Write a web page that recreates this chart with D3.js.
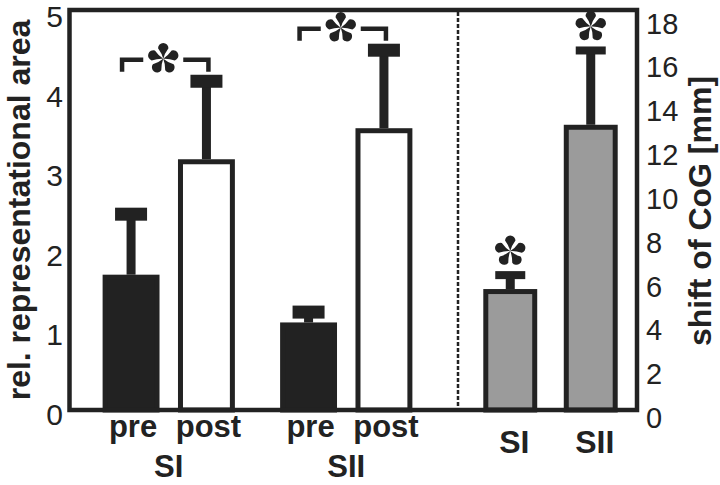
<!DOCTYPE html>
<html>
<head>
<meta charset="utf-8">
<script src="https://cdn.jsdelivr.net/npm/d3@7"></script>
<style>
  body { margin: 0; background: #fff; }
  svg { display: block; font-family: "Liberation Sans", Arial, sans-serif; }
  .tick-label { fill: #222; }
  .label { fill: #222; font-weight: bold; }
</style>
</head>
<body>
<svg width="720" height="485"></svg>
<script>
  // left panel: relative representational area, pre vs post
  const groups = ['SI', 'SII'];
  const phases = ['pre', 'post'];
  const areaPre = [1.70, 1.10];
  const areaPreErr = [2.46, 1.23];
  const areaPost = [3.15, 3.54];
  const areaPostErr = [4.13, 4.52];

  // right panel: shift of CoG in mm
  const shiftMean = [5.47, 12.9];
  const shiftErr = [6.1, 16.26];

  const leftTicks = [0, 1, 2, 3, 4, 5];
  const rightTicks = [0, 2, 4, 6, 8, 10, 12, 14, 16, 18];

  const ink = '#222';
  const svg = d3.select('svg');

  const yLeft = d3.scaleLinear().domain([0, 5]).range([410, 12]);
  const yRight = d3.scaleLinear().domain([0, 18]).range([410, 12]);

  const xGroup = d3.scaleBand().domain(groups).range([80, 435]);
  const xPhase = d3.scaleBand().domain(phases)
    .range([0, xGroup.bandwidth()])
    .paddingInner(0.245).paddingOuter(0.3);
  const xShift = d3.scaleBand().domain(groups)
    .range([461, 640])
    .paddingInner(0.33).paddingOuter(0.277);

  const leftRows = [];
  groups.forEach((g, i) => {
    leftRows.push({ group: g, phase: 'pre', value: areaPre[i], err: areaPreErr[i] });
    leftRows.push({ group: g, phase: 'post', value: areaPost[i], err: areaPostErr[i] });
  });
  const rightRows = groups.map((g, i) => ({ group: g, value: shiftMean[i], err: shiftErr[i] }));

  // five teardrop petals
  const r = 5.2, len = 10.5;
  const petal = `M0,0Q${-r * 0.25},${-len * 0.5} ${-r},${-len}` +
    `A${r},${r} 0 1 1 ${r},${-len}Q${r * 0.25},${-len * 0.5} 0,0Z`;
  const asterisk = (sel, x, y) => {
    const a = sel.append('g').attr('transform', `translate(${x},${y})`);
    d3.range(5).forEach(k => {
      a.append('path').attr('d', petal)
        .attr('transform', `rotate(${k * 72})`)
        .attr('fill', ink);
    });
  };

  // bars with error bars
  const drawBar = (sel, cx, bw, yScale, d, fill, capH, capW) => {
    const sw = 5;
    const yTop = yScale(d.value);
    const yErr = yScale(d.err);
    sel.append('rect')
      .attr('x', cx - 4.5).attr('width', 9)
      .attr('y', yErr).attr('height', yTop - yErr);
    sel.append('rect')
      .attr('x', cx - capW / 2).attr('width', capW)
      .attr('y', yErr - capH / 2).attr('height', capH);
    sel.append('rect')
      .attr('x', cx - bw / 2 + sw / 2).attr('width', bw - sw)
      .attr('y', yTop + sw / 2).attr('height', yScale(0) - yTop - sw / 2)
      .attr('fill', fill)
      .attr('stroke', ink).attr('stroke-width', sw);
  };

  const bars = svg.append('g').attr('fill', ink);
  leftRows.forEach(d => {
    const cx = xGroup(d.group) + xPhase(d.phase) + xPhase.bandwidth() / 2;
    drawBar(bars, cx, xPhase.bandwidth(), yLeft, d, d.phase === 'pre' ? ink : '#fff', 13, 32);
  });
  rightRows.forEach(d => {
    const cx = xShift(d.group) + xShift.bandwidth() / 2;
    drawBar(bars, cx, xShift.bandwidth(), yRight, d, '#9b9b9b', 8, 30);
  });

  // significance brackets pre vs post
  groups.forEach((g, i) => {
    const x0 = xGroup(g) + xPhase('pre') + xPhase.bandwidth() / 2 - 9;
    const x1 = xGroup(g) + xPhase('post') + xPhase.bandwidth() / 2 + 2;
    const yEnd = yLeft(areaPostErr[i]) - 6.5 - 3;
    const yLine = yEnd - 12;
    const xm = (x0 + x1) / 2 - 2;
    const gap = 20;
    svg.append('path')
      .attr('d', `M${x0},${yEnd}V${yLine}H${xm - gap}M${xm + gap},${yLine}H${x1}V${yEnd}`)
      .attr('fill', 'none').attr('stroke', ink).attr('stroke-width', 4.5);
    asterisk(svg, xm, yLine - 1);
  });
  rightRows.forEach(d => {
    const cx = xShift(d.group) + xShift.bandwidth() / 2;
    asterisk(svg, cx, yRight(d.err) - 4 - 20);
  });

  // divider
  svg.append('line')
    .attr('x1', 458).attr('x2', 458).attr('y1', 12).attr('y2', 410)
    .attr('stroke', ink).attr('stroke-width', 2.5)
    .attr('stroke-dasharray', '4,2');

  // frame
  svg.append('rect')
    .attr('x', 69.5).attr('y', 10).attr('width', 567.5).attr('height', 400)
    .attr('fill', 'none').attr('stroke', ink).attr('stroke-width', 4.5);

  // tick labels
  svg.append('g').selectAll('text').data(leftTicks).join('text')
    .attr('class', 'tick-label')
    .attr('x', 63).attr('y', d => yLeft(d) + 15)
    .attr('text-anchor', 'end')
    .attr('font-size', 30)
    .text(d => d);
  svg.append('g').selectAll('text').data(rightTicks).join('text')
    .attr('class', 'tick-label')
    .attr('x', 646).attr('y', d => yRight(d) + 18 + d * 0.2)
    .attr('font-size', 29)
    .text(d => d);

  // axis titles
  svg.append('text').attr('class', 'label')
    .attr('transform', 'translate(30,210) rotate(-90)')
    .attr('text-anchor', 'middle').attr('font-size', 32)
    .text('rel. representational area');
  svg.append('text').attr('class', 'label')
    .attr('transform', 'translate(711,211) rotate(-90)')
    .attr('text-anchor', 'middle').attr('font-size', 32)
    .text('shift of CoG [mm]');

  // category labels
  leftRows.forEach(d => {
    svg.append('text').attr('class', 'label')
      .attr('x', xGroup(d.group) + xPhase(d.phase) + xPhase.bandwidth() / 2 + 2)
      .attr('y', 437).attr('text-anchor', 'middle').attr('font-size', 31)
      .text(d.phase);
  });
  groups.forEach(g => {
    svg.append('text').attr('class', 'label')
      .attr('x', xGroup(g) + xGroup.bandwidth() / 2)
      .attr('y', 477).attr('text-anchor', 'middle').attr('font-size', 31)
      .text(g);
    svg.append('text').attr('class', 'label')
      .attr('x', xShift(g) + xShift.bandwidth() / 2 + 4)
      .attr('y', 453).attr('text-anchor', 'middle').attr('font-size', 32)
      .text(g);
  });
</script>
</body>
</html>
